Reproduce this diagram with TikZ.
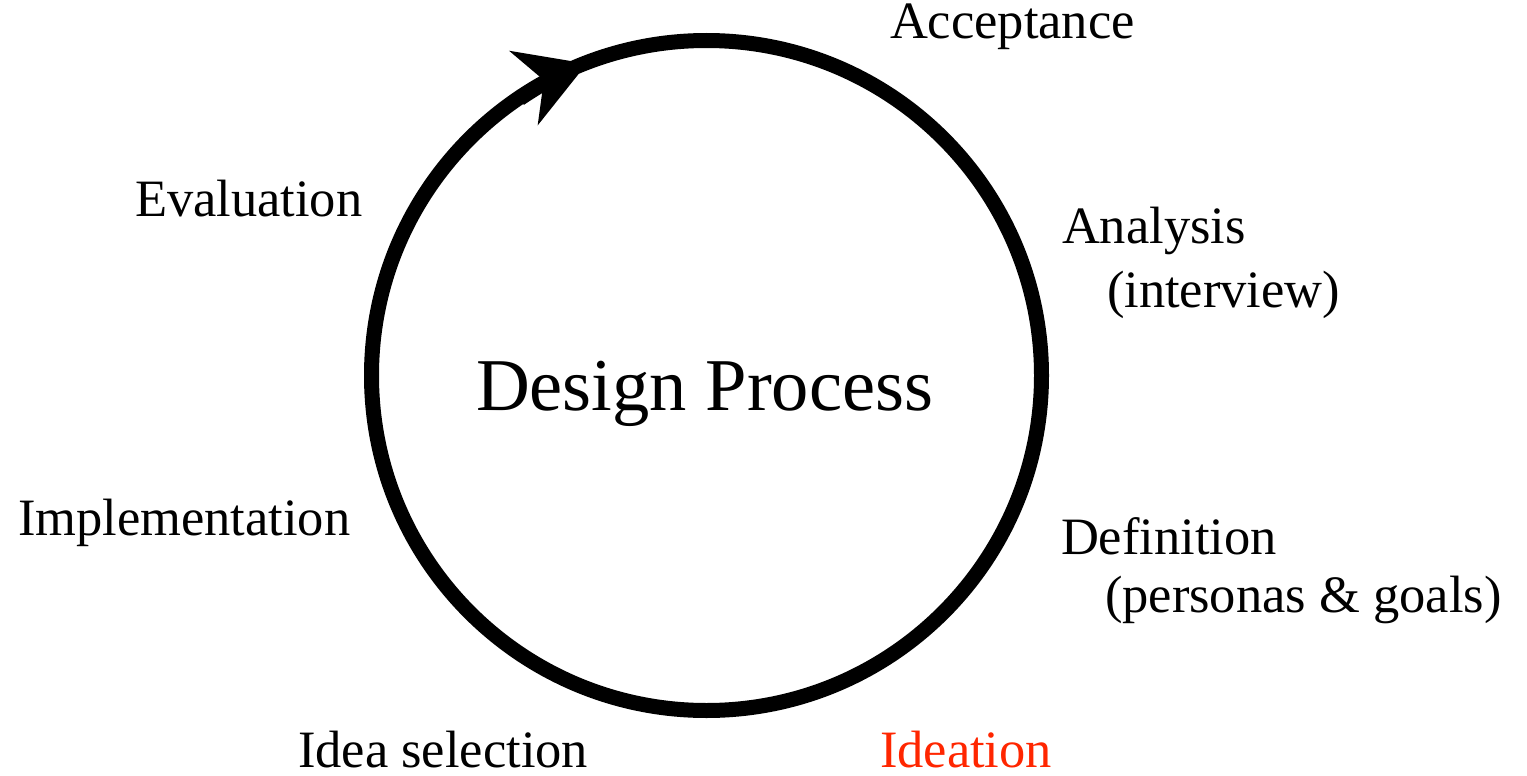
\documentclass[tikz,border=0pt]{standalone}
\usepackage{fontspec}
\setmainfont{Liberation Serif}
\usetikzlibrary{arrows.meta}
\definecolor{ideared}{RGB}{255,38,0}
\tikzset{
  lbl/.style={anchor=base west, inner sep=0pt, outer sep=0pt, font=\fontsize{52.5}{60}\selectfont},
  title/.style={anchor=base west, inner sep=0pt, outer sep=0pt, font=\fontsize{74.5}{86}\selectfont},
  ring/.style={line width=15pt, black},
  ringarrow/.style={line width=15pt, black, -{Stealth[length=68pt, width=80pt, inset=22pt, line width=0pt]}}
}
\begin{document}
\begin{tikzpicture}[x=1pt, y=-1pt]
\useasboundingbox (0,0) rectangle (1527,776);
\coordinate (c) at (706.5,375.5);
\draw[ring] (c) circle[radius=335pt];
\draw[ringarrow] ([shift={(124:334pt)}]c) arc[start angle=124, end angle=111, radius=334pt];
\node[title] (dp) at (476,410) {Design Process};
\node[lbl] (acc) at (890,39) {Acceptance};
\node[lbl] (eva) at (135,216) {Evaluation};
\node[lbl] (ana) at (1062,243) {Analysis};
\node[lbl] (int) at (1107,307) {(interview)};
\node[lbl] (def) at (1061,554) {Definition};
\node[lbl] (per) at (1105,612) {(personas \& goals)};
\node[lbl] (imp) at (18,535) {Implementation};
\node[lbl] (sel) at (298,767) {Idea selection};
\node[lbl, text=ideared] (ide) at (880,767) {Ideation};
\end{tikzpicture}
\end{document}
